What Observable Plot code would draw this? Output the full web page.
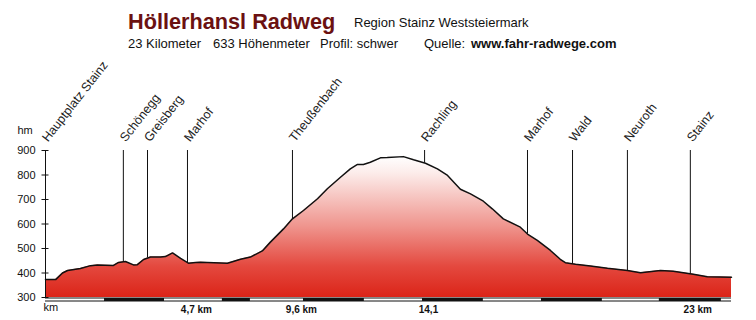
<!DOCTYPE html>
<html><head><meta charset="utf-8">
<script src="https://cdn.jsdelivr.net/npm/d3@7"></script>
<script src="https://cdn.jsdelivr.net/npm/@observablehq/plot@0.6"></script>
<style>
body{margin:0;background:#fff;font-family:"Liberation Sans",Arial,sans-serif;}
#wrap{position:relative;width:756px;height:320px;overflow:hidden;background:#fff;}
#chart{position:absolute;left:0;top:0;}
.t{position:absolute;white-space:nowrap;line-height:1;color:#111;font-size:13px;}
</style></head><body>
<div id="wrap">
<div id="chart"></div>
<div class="t" style="left:128px;top:10.8px;font-size:21.7px;font-weight:bold;color:#6b1111">Höllerhansl Radweg</div>
<div class="t" style="left:354px;top:16px;">Region Stainz Weststeiermark</div>
<div class="t" style="left:128px;top:37px;">23 Kilometer</div>
<div class="t" style="left:213px;top:37px;">633 Höhenmeter</div>
<div class="t" style="left:320px;top:37px;">Profil: schwer</div>
<div class="t" style="left:424px;top:37px;">Quelle:</div>
<div class="t" style="left:471px;top:37px;font-weight:bold;">www.fahr-radwege.com</div>
</div>
<script>
// profile (km, metres)
const km = [0.00,0.34,0.57,0.74,1.17,1.51,1.74,2.28,2.45,2.68,2.95,3.08,3.29,3.52,3.86,4.02,4.26,4.53,4.79,5.03,5.20,6.10,6.54,6.87,7.27,7.54,7.98,8.28,8.65,9.12,9.45,9.89,10.22,10.46,10.66,10.89,11.23,11.46,12.00,12.34,12.74,13.14,13.48,13.91,14.25,14.68,14.98,15.35,15.92,16.16,16.49,16.93,17.26,17.43,17.77,18.27,18.84,19.51,19.95,20.62,21.05,21.72,22.19,23.00];
const elev = [373,373,400,410,418,430,433,431,443,447,433,434,455,465,465,467,482,460,440,443,444,440,456,465,490,526,580,621,655,703,744,791,825,843,843,852,870,871,875,862,848,825,798,742,723,693,662,621,587,559,533,492,456,442,436,429,419,410,401,410,407,395,385,383];

// waypoints
const wpNames = ["Hauptplatz Stainz","Schönegg","Greisberg","Marhof","Theußenbach","Rachling","Marhof","Wald","Neuroth","Stainz"];
const wpKm = [0.00,2.61,3.42,4.76,8.28,12.71,16.16,17.67,19.51,21.62];
const wpElev = [373,446,462,442,621,848,559,438,410,397];

// y axis ticks
const yTicks = [300,400,500,600,700,800,900];

// x labels
const xTickKm = [5.06,8.58,12.84,21.87];
const xTickLabels = ["4,7 km","9,6 km","14,1","23 km"];

// scale bar white segments (km)
const whiteStart = [0.00,3.99,6.87,10.69,14.68,18.67,22.66];
const whiteEnd   = [1.98,5.93,8.65,12.64,16.63,20.58,23.00];

const profile = km.map((k,i)=>({km:k, elev:elev[i]}));
const waypoints = wpNames.map((n,i)=>({name:n, km:wpKm[i], elev:wpElev[i]}));
const xLabels = xTickKm.map((k,i)=>({km:k, label:xTickLabels[i]}));
const whites = whiteStart.map((s,i)=>({x1:s, x2:whiteEnd[i]}));

const gradStops = [[0,"#ffffff"],[0.12,"#fcecea"],[0.5,"#ef948d"],[0.78,"#e4493f"],[1,"#db2418"]];

const W = 756, ML = 45, MR = 25;

const chart = Plot.plot({
  width:W, height:320,
  marginLeft:ML, marginRight:MR, marginTop:150, marginBottom:23,
  x:{domain:[0,23], axis:null},
  y:{domain:[300,900], axis:"left", ticks:yTicks, tickSize:3.5, tickPadding:6.5, label:null},
  style:{fontFamily:"Liberation Sans, Arial, sans-serif", fontSize:"11px", background:"white", overflow:"visible", color:"#111"},
  marks:[
    () => {
      const defs = d3.create("svg:defs");
      const g = defs.append("linearGradient").attr("id","hgrad")
        .attr("x1",0).attr("y1",0).attr("x2",0).attr("y2",1);
      gradStops.forEach(([o,c]) => g.append("stop").attr("offset",o).attr("stop-color",c));
      return defs.node();
    },
    Plot.areaY(profile, {x:"km", y1:300, y2:"elev", fill:"url(#hgrad)"}),
    Plot.ruleX(waypoints, {x:"km", y1:"elev", y2:900, stroke:"#111", strokeWidth:1}),
    Plot.line(profile, {x:"km", y:"elev", stroke:"#111", strokeWidth:1.5}),
    Plot.text(waypoints, {x:"km", y:900, text:"name", rotate:-52, textAnchor:"start", lineAnchor:"bottom", dx:2.5, dy:-8, fontSize:12.5, fill:"#222"}),
    Plot.ruleX([0], {y1:300, y2:900, stroke:"#111"}),
    Plot.tickY(yTicks, {y:d=>d, stroke:"#111", insetRight:W-ML-MR-3.5}),
    Plot.ruleY([300], {x1:0, x2:23, stroke:"#111", strokeWidth:4, dy:2}),
    Plot.ruleY(whites, {x1:"x1", x2:"x2", y:300, stroke:"white", strokeWidth:2, dy:2}),
    Plot.text(xLabels, {x:"km", text:"label", frameAnchor:"bottom", dy:15, fontWeight:"bold", fontSize:10, fill:"#111"}),
    Plot.text(["hm"], {frameAnchor:"top-left", text:d=>d, dx:-28, dy:-24, textAnchor:"start", fontSize:11, fill:"#111"}),
    Plot.text(["km"], {frameAnchor:"bottom-left", text:d=>d, dx:-2, dy:13, textAnchor:"start", fontSize:11, fill:"#111"})
  ]
});
document.getElementById("chart").appendChild(chart);
</script>
</body></html>
